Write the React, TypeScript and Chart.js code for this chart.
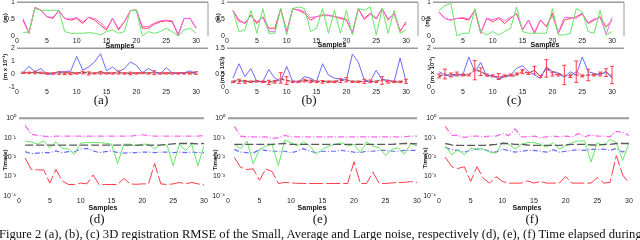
import React, { useEffect, useRef } from "react";
import { Chart, registerables } from "chart.js";

Chart.register(...registerables);
Chart.defaults.font.family = "'Liberation Sans', Arial, sans-serif";

// ---------------- DATA ----------------
const samples = [1, 2, 3, 4, 5, 6, 7, 8, 9, 10, 11, 12, 13, 14, 15, 16, 17, 18, 19, 20, 21, 22, 23, 24, 25, 26, 27, 28, 29, 30];
const xTickValues = [0, 5, 10, 15, 20, 25, 30];
const rmseTicks = [0, 0.5, 1];
const aErrTicks = [-1, 0, 1, 2];
const bErrTicks = [0, 0.5, 1, 1.5];
const cErrTicks = [0, 1, 2];
const timeTicks = [1e-4, 1e-3, 1e-2, 1e-1, 1];

// (a) RMSE top
const aTopRed = [0.47, 0.08, 0.84, 0.77, 0.57, 0.52, 0.75, 0.52, 0.47, 0.52, 0.37, 0.55, 0.47, 0.32, 0.18, 0.52, 0.18, 0.42, 0.75, 0.77, 0.23, 0.23, 0.35, 0.42, 0.45, 0.42, 0.03, 0.52, 0.52, 0.23];
const aTopMagenta = [0.52, 0.1, 0.84, 0.77, 0.57, 0.55, 0.75, 0.52, 0.5, 0.55, 0.42, 0.55, 0.52, 0.4, 0.22, 0.52, 0.22, 0.42, 0.75, 0.77, 0.28, 0.28, 0.38, 0.45, 0.47, 0.45, 0.05, 0.52, 0.52, 0.25];
const aTopGreen = [0.11, 0.11, 0.81, 0.76, 0.76, 0.76, 0.76, 0.13, 0.08, 0.08, 0.08, 0.1, 0.08, 0.03, 0.13, 0.18, 0.08, 0.13, 0.76, 0.76, 0.0, 0.13, 0.08, 0.13, 0.23, 0.13, 0.0, 0.18, 0.23, 0.08];
// (a) bottom
const aBotBlue = [0.1, 0.6, 0.18, 0.43, 0.0, 0.0, 0.18, 0.18, 0.25, 1.37, 0.3, 0.55, 0.94, 1.57, 0.25, 0.55, 0.18, 0.43, 0.94, 0.68, 0.1, 0.43, 0.18, 0.0, 0.5, 0.1, 0.05, 0.1, 0.25, 0.05];
const aBotBlack = [0.1, 0.1, 0.12, 0.08, 0.05, 0.08, 0.1, 0.1, 0.1, 0.1, 0.12, 0.08, 0.08, 0.1, 0.1, 0.08, 0.1, 0.08, 0.08, 0.1, 0.08, 0.1, 0.1, 0.08, 0.1, 0.08, 0.1, 0.1, 0.12, 0.1];
const aBotRed = [0.1, 0.1, 0.12, 0.1, 0.05, 0.05, 0.08, 0.05, 0.05, 0.05, 0.12, 0.05, 0.05, 0.1, 0.05, 0.05, 0.12, 0.05, 0.05, 0.05, 0.08, 0.05, 0.1, 0.05, 0.05, 0.05, 0.05, 0.05, 0.05, 0.08];
const aBotRedErr = [0.05, 0.05, 0.1, 0.05, 0.05, 0.05, 0.1, 0.1, 0.1, 0.05, 0.1, 0.12, 0.05, 0.1, 0.05, 0.05, 0.12, 0.05, 0.1, 0.05, 0.05, 0.05, 0.15, 0.05, 0.05, 0.05, 0.05, 0.05, 0.05, 0.1];

// (b) RMSE top
const bTopRed = [0.76, 0.47, 0.37, 0.62, 0.37, 0.57, 0.23, 0.23, 0.81, 0.13, 0.81, 0.76, 0.67, 0.47, 0.57, 0.62, 0.62, 0.57, 0.52, 0.47, 0.08, 0.81, 0.52, 0.67, 0.52, 0.81, 0.47, 0.67, 0.13, 0.42];
const bTopMagenta = [0.75, 0.42, 0.4, 0.6, 0.42, 0.55, 0.15, 0.12, 0.8, 0.1, 0.8, 0.78, 0.72, 0.55, 0.57, 0.6, 0.6, 0.58, 0.55, 0.5, 0.1, 0.8, 0.48, 0.65, 0.5, 0.8, 0.5, 0.65, 0.18, 0.35];
const bTopGreen = [0.76, 0.13, 0.18, 0.76, 0.08, 0.81, 0.08, 0.08, 0.81, 0.03, 0.81, 0.86, 0.81, 0.13, 0.23, 0.81, 0.08, 0.76, 0.08, 0.76, 0.03, 0.81, 0.76, 0.86, 0.03, 0.81, 0.08, 0.76, 0.08, 0.18];
// (b) bottom
const bBotBlue = [0.34, 0.9, 0.4, 0.71, 0.21, 0.21, 0.68, 0.34, 0.21, 0.8, 0.21, 0.21, 0.4, 0.34, 0.21, 0.9, 0.46, 0.34, 0.3, 0.27, 1.27, 0.96, 0.27, 0.21, 0.65, 0.27, 0.27, 0.21, 1.12, 0.21];
const bBotBlack = [0.22, 0.25, 0.22, 0.22, 0.22, 0.22, 0.2, 0.2, 0.3, 0.25, 0.22, 0.22, 0.25, 0.25, 0.22, 0.22, 0.22, 0.22, 0.25, 0.28, 0.22, 0.22, 0.22, 0.22, 0.22, 0.3, 0.25, 0.22, 0.2, 0.22];
const bBotRed = [0.2, 0.22, 0.2, 0.2, 0.22, 0.2, 0.18, 0.2, 0.35, 0.25, 0.2, 0.2, 0.25, 0.22, 0.2, 0.2, 0.2, 0.2, 0.25, 0.28, 0.2, 0.2, 0.22, 0.22, 0.2, 0.25, 0.2, 0.2, 0.2, 0.22];
const bBotRedErr = [0.03, 0.08, 0.05, 0.03, 0.03, 0.03, 0.08, 0.05, 0.2, 0.15, 0.03, 0.03, 0.05, 0.05, 0.03, 0.05, 0.03, 0.03, 0.08, 0.08, 0.03, 0.03, 0.08, 0.05, 0.03, 0.15, 0.05, 0.03, 0.03, 0.08];

// (c) RMSE top
const cTopRed = [0.72, 0.52, 0.47, 0.52, 0.52, 0.47, 0.76, 0.08, 0.52, 0.42, 0.52, 0.37, 0.52, 0.67, 0.18, 0.47, 0.08, 0.47, 0.27, 0.67, 0.08, 0.47, 0.52, 0.57, 0.67, 0.37, 0.47, 0.57, 0.27, 0.47];
const cTopMagenta = [0.7, 0.52, 0.47, 0.52, 0.55, 0.5, 0.76, 0.1, 0.52, 0.48, 0.55, 0.45, 0.55, 0.65, 0.2, 0.47, 0.12, 0.47, 0.3, 0.6, 0.1, 0.55, 0.55, 0.52, 0.65, 0.4, 0.5, 0.55, 0.05, 0.55];
const cTopGreen = [0.76, 0.9, 0.96, 0.0, 0.08, 0.08, 0.81, 0.13, 0.03, 0.13, 0.03, 0.13, 0.23, 0.86, 0.13, 0.08, 0.08, 0.08, 0.08, 0.81, 0.03, 0.03, 0.08, 0.81, 0.72, 0.13, 0.08, 0.76, 0.03, 0.13];
// (c) bottom
const cBotBlue = [0.79, 0.62, 0.54, 0.62, 0.62, 1.55, 0.79, 1.26, 0.54, 0.62, 0.4, 0.54, 0.62, 0.96, 1.1, 0.79, 0.62, 0.45, 1.04, 0.79, 0.7, 0.5, 0.79, 0.62, 1.55, 0.79, 0.7, 0.62, 0.79, 0.45];
const cBotBlack = [0.54, 0.62, 0.62, 0.67, 0.62, 0.62, 0.96, 0.79, 0.62, 0.57, 0.45, 0.57, 0.57, 0.57, 0.9, 0.7, 0.87, 0.54, 0.96, 0.79, 0.74, 0.54, 0.67, 0.62, 0.57, 0.62, 0.62, 0.7, 0.79, 0.5];
const cBotRed = [0.57, 0.67, 0.62, 0.67, 0.62, 0.62, 0.87, 0.79, 0.62, 0.57, 0.54, 0.57, 0.62, 0.67, 0.79, 0.7, 0.87, 0.54, 0.96, 0.67, 0.62, 0.62, 0.54, 0.79, 0.57, 0.62, 0.62, 0.67, 0.74, 0.62];
const cBotRedErr = [0.1, 0.25, 0.1, 0.1, 0.05, 0.05, 0.5, 0.2, 0.05, 0.05, 0.15, 0.05, 0.05, 0.05, 0.1, 0.05, 0.2, 0.05, 0.45, 0.1, 0.05, 0.5, 0.05, 0.55, 0.05, 0.3, 0.05, 0.1, 0.2, 0.45];

// (d) time
const dMagenta = [0.41, 0.15, 0.13, 0.12, 0.11, 0.12, 0.12, 0.12, 0.12, 0.12, 0.12, 0.12, 0.12, 0.12, 0.12, 0.12, 0.12, 0.12, 0.13, 0.14, 0.13, 0.12, 0.12, 0.12, 0.12, 0.12, 0.12, 0.12, 0.12, 0.13];
const dGreen = [0.068, 0.06, 0.046, 0.068, 0.03, 0.06, 0.028, 0.026, 0.014, 0.052, 0.056, 0.056, 0.056, 0.052, 0.046, 0.0046, 0.046, 0.046, 0.038, 0.046, 0.046, 0.026, 0.046, 0.042, 0.0036, 0.046, 0.022, 0.046, 0.0036, 0.038];
const dBlack = [0.041, 0.041, 0.041, 0.041, 0.041, 0.041, 0.041, 0.041, 0.041, 0.041, 0.041, 0.041, 0.041, 0.041, 0.041, 0.041, 0.041, 0.041, 0.041, 0.041, 0.041, 0.041, 0.041, 0.045, 0.048, 0.05, 0.05, 0.05, 0.048, 0.05];
const dBlue = [0.019, 0.015, 0.016, 0.017, 0.017, 0.021, 0.017, 0.019, 0.019, 0.026, 0.028, 0.021, 0.017, 0.019, 0.021, 0.017, 0.016, 0.017, 0.017, 0.018, 0.018, 0.017, 0.018, 0.018, 0.017, 0.018, 0.017, 0.018, 0.017, 0.017];
const dRed = [0.0089, 0.0023, 0.0022, 0.0022, 0.00046, 0.0023, 0.0006, 0.00039, 0.00039, 0.00046, 0.00042, 0.0012, 0.00039, 0.00039, 0.00039, 0.00039, 0.0008, 0.00042, 0.0004, 0.00042, 0.00042, 0.0047, 0.00042, 0.00039, 0.00042, 0.0005, 0.00042, 0.0005, 0.00042, 0.00037];

// (e) time
const eMagenta = [0.38, 0.12, 0.11, 0.11, 0.11, 0.11, 0.09, 0.1, 0.13, 0.11, 0.11, 0.11, 0.11, 0.11, 0.11, 0.11, 0.11, 0.11, 0.11, 0.11, 0.11, 0.11, 0.11, 0.11, 0.11, 0.11, 0.11, 0.11, 0.12, 0.12];
const eGreen = [0.045, 0.027, 0.067, 0.0045, 0.025, 0.037, 0.045, 0.0037, 0.075, 0.055, 0.037, 0.06, 0.037, 0.014, 0.025, 0.037, 0.045, 0.055, 0.037, 0.045, 0.017, 0.06, 0.037, 0.03, 0.012, 0.025, 0.03, 0.014, 0.05, 0.037];
const eBlack = [0.045, 0.045, 0.045, 0.045, 0.045, 0.045, 0.045, 0.048, 0.05, 0.045, 0.045, 0.045, 0.045, 0.045, 0.045, 0.045, 0.045, 0.045, 0.045, 0.045, 0.045, 0.045, 0.045, 0.045, 0.045, 0.045, 0.048, 0.05, 0.05, 0.048];
const eBlue = [0.025, 0.018, 0.017, 0.016, 0.025, 0.022, 0.02, 0.02, 0.02, 0.017, 0.02, 0.027, 0.02, 0.017, 0.02, 0.02, 0.02, 0.022, 0.02, 0.018, 0.017, 0.02, 0.02, 0.022, 0.022, 0.02, 0.02, 0.022, 0.022, 0.022];
const eRed = [0.0096, 0.003, 0.0023, 0.0025, 0.00065, 0.0025, 0.0018, 0.00044, 0.0005, 0.00047, 0.00045, 0.00044, 0.00044, 0.00044, 0.00044, 0.00044, 0.00044, 0.00044, 0.00044, 0.0058, 0.00044, 0.00044, 0.0017, 0.00044, 0.00044, 0.00047, 0.0005, 0.0005, 0.00055, 0.0005];

// (f) time
const fMagenta = [0.38, 0.13, 0.13, 0.1, 0.12, 0.12, 0.11, 0.12, 0.12, 0.16, 0.13, 0.28, 0.11, 0.11, 0.12, 0.1, 0.11, 0.12, 0.11, 0.12, 0.11, 0.16, 0.11, 0.14, 0.12, 0.12, 0.11, 0.21, 0.19, 0.13];
const fGreen = [0.038, 0.013, 0.024, 0.013, 0.028, 0.026, 0.026, 0.018, 0.016, 0.056, 0.046, 0.026, 0.046, 0.056, 0.056, 0.046, 0.032, 0.056, 0.026, 0.038, 0.056, 0.068, 0.068, 0.0056, 0.056, 0.038, 0.08, 0.056, 0.0068, 0.056];
const fBlack = [0.05, 0.042, 0.04, 0.04, 0.04, 0.04, 0.04, 0.042, 0.045, 0.05, 0.05, 0.045, 0.045, 0.042, 0.04, 0.04, 0.04, 0.04, 0.04, 0.042, 0.045, 0.045, 0.045, 0.042, 0.042, 0.045, 0.045, 0.05, 0.05, 0.05];
const fBlue = [0.031, 0.024, 0.022, 0.018, 0.022, 0.026, 0.026, 0.02, 0.018, 0.026, 0.022, 0.018, 0.02, 0.022, 0.022, 0.02, 0.018, 0.024, 0.018, 0.02, 0.022, 0.024, 0.022, 0.026, 0.024, 0.026, 0.022, 0.028, 0.018, 0.028];
const fRed = [0.01, 0.0032, 0.0026, 0.0032, 0.00056, 0.0032, 0.0008, 0.00046, 0.001, 0.00056, 0.00046, 0.00046, 0.00046, 0.0006, 0.00046, 0.00056, 0.00046, 0.00046, 0.00046, 0.001, 0.00046, 0.00046, 0.00046, 0.00046, 0.0009, 0.00046, 0.0005, 0.012, 0.0012, 0.00046];

// ---------------- STYLE ----------------
const RED = "#ff3a4a";
const MAGENTA = "#ff66ee";
const GREEN = "#66e666";
const BLUE = "#6a6aff";
const BLACK = "#5a5a5a";
const FRAME = "#9a9a9a";

type Series = { data: number[]; color: string; dash?: number[]; width?: number; errors?: number[] };
type Panel = {
  left: number; top: number; width: number; height: number;
  xMax: number; log?: boolean; yMin: number; yMax: number; yTicks: number[];
  series: Series[]; frame: { top?: number; right?: number }; tickPad: number;
};

const Y_W = 26, X_H = 11, PAD_T = 6, PAD_R = 10;

const supMap: Record<string, string> = { "-": "⁻", "0": "⁰", "1": "¹", "2": "²", "3": "³", "4": "⁴" };
const pow10Label = (v: number) => {
  const e = Math.round(Math.log10(v));
  return "10" + String(e).split("").map((c) => supMap[c] || c).join("");
};

const framePlugin = {
  id: "frame",
  afterDraw(chart: any, _args: any, opts: any) {
    const { ctx, chartArea } = chart;
    const { left, right, top, bottom } = chartArea;
    ctx.save();
    ctx.strokeStyle = FRAME;
    if (opts && opts.top) {
      ctx.lineWidth = opts.top;
      ctx.beginPath(); ctx.moveTo(left, top); ctx.lineTo(right, top); ctx.stroke();
    }
    if (opts && opts.right) {
      ctx.lineWidth = opts.right;
      ctx.beginPath(); ctx.moveTo(right, top); ctx.lineTo(right, bottom); ctx.stroke();
    }
    ctx.restore();
  },
};

const errorBarPlugin = {
  id: "errorBars",
  afterDatasetsDraw(chart: any) {
    const ctx = chart.ctx;
    const yScale = chart.scales.y;
    chart.data.datasets.forEach((ds: any, i: number) => {
      if (!ds.errors) return;
      const meta = chart.getDatasetMeta(i);
      ctx.save();
      ctx.strokeStyle = ds.borderColor;
      ctx.lineWidth = 1;
      meta.data.forEach((pt: any, j: number) => {
        const e = ds.errors[j];
        const v = ds.data[j].y;
        const x = pt.x;
        const y1 = yScale.getPixelForValue(v - e);
        const y2 = yScale.getPixelForValue(v + e);
        ctx.beginPath();
        ctx.moveTo(x, y1); ctx.lineTo(x, y2);
        ctx.moveTo(x - 2, y1); ctx.lineTo(x + 2, y1);
        ctx.moveTo(x - 2, y2); ctx.lineTo(x + 2, y2);
        ctx.stroke();
      });
      ctx.restore();
    });
  },
};

Chart.register(framePlugin as any, errorBarPlugin as any);

function Plot({ p }: { p: Panel }) {
  const ref = useRef<HTMLCanvasElement>(null);
  const w = Y_W + p.width + PAD_R;
  const h = PAD_T + p.height + X_H;
  useEffect(() => {
    const chart = new Chart(ref.current as HTMLCanvasElement, {
      type: "line",
      data: {
        datasets: p.series.map((s) => ({
          data: samples.map((x, i) => ({ x, y: s.data[i] })),
          borderColor: s.color,
          backgroundColor: s.color,
          borderWidth: s.width ?? 1,
          borderDash: s.dash ?? [],
          pointRadius: 0,
          tension: 0,
          fill: false,
          errors: s.errors,
        })) as any,
      },
      options: {
        animation: false,
        responsive: false,
        maintainAspectRatio: false,
        layout: { padding: { top: PAD_T, right: PAD_R, left: 0, bottom: 0 } },
        plugins: {
          legend: { display: false },
          tooltip: { enabled: false },
          frame: p.frame,
        } as any,
        scales: {
          x: {
            type: "linear",
            min: 0,
            max: p.xMax,
            grid: { display: false, drawTicks: false, tickLength: 0 },
            border: { display: false },
            ticks: { font: { size: 7 }, color: "#222", padding: 1, maxRotation: 0, autoSkip: false, includeBounds: false },
            afterBuildTicks: (s: any) => { s.ticks = xTickValues.map((v) => ({ value: v })); },
            afterFit: (s: any) => { s.height = X_H; },
          },
          y: {
            type: p.log ? "logarithmic" : "linear",
            min: p.yMin,
            max: p.yMax,
            grid: { display: false, drawTicks: false, tickLength: 0 },
            border: { display: false },
            ticks: {
              font: { size: 7 },
              color: "#222",
              padding: p.tickPad,
              autoSkip: false,
              callback: (v: any) => (p.log ? pow10Label(Number(v)) : String(Number(v))),
            },
            afterBuildTicks: (s: any) => { s.ticks = p.yTicks.map((v) => ({ value: v })); },
            afterFit: (s: any) => { s.width = Y_W; },
          },
        } as any,
      } as any,
    });
    return () => chart.destroy();
  }, []);
  return (
    <canvas
      ref={ref}
      width={w}
      height={h}
      style={{ position: "absolute", left: p.left - Y_W, top: p.top - PAD_T, width: w, height: h }}
    />
  );
}

const topSeries = (red: number[], mag: number[], green: number[]): Series[] => [
  { data: green, color: GREEN },
  { data: mag, color: MAGENTA },
  { data: red, color: RED },
];
const midSeries = (blue: number[], black: number[], red: number[], err: number[]): Series[] => [
  { data: blue, color: BLUE },
  { data: black, color: BLACK, dash: [4, 2] },
  { data: red, color: RED, dash: [3, 2], errors: err },
];
const timeSeries = (m: number[], g: number[], k: number[], b: number[], r: number[]): Series[] => [
  { data: m, color: MAGENTA, dash: [6, 2, 1, 2], width: 1.3 },
  { data: k, color: BLACK, dash: [8, 3], width: 1.3 },
  { data: g, color: GREEN },
  { data: b, color: BLUE, dash: [5, 2, 1, 2], width: 1.2 },
  { data: r, color: RED, dash: [14, 3] },
];

const topLefts = [17, 227, 433];
const panels: Panel[] = [
  ...[[aTopRed, aTopMagenta, aTopGreen], [bTopRed, bTopMagenta, bTopGreen], [cTopRed, cTopMagenta, cTopGreen]].map((d, i) => ({
    left: topLefts[i], top: 2, width: 191, height: 34, xMax: 32, yMin: 0, yMax: 1, yTicks: rmseTicks,
    series: topSeries(d[0], d[1], d[2]), frame: { top: 1.5, right: 1 }, tickPad: 2,
  })),
  { left: topLefts[0], top: 48, width: 191, height: 39, xMax: 32, yMin: -1, yMax: 2, yTicks: aErrTicks,
    series: midSeries(aBotBlue, aBotBlack, aBotRed, aBotRedErr), frame: { top: 1.5 }, tickPad: 2 },
  { left: topLefts[1], top: 48, width: 191, height: 39, xMax: 32, yMin: 0, yMax: 1.5, yTicks: bErrTicks,
    series: midSeries(bBotBlue, bBotBlack, bBotRed, bBotRedErr), frame: { top: 1.5 }, tickPad: 2 },
  { left: topLefts[2], top: 48, width: 191, height: 39, xMax: 32, yMin: 0, yMax: 2, yTicks: cErrTicks,
    series: midSeries(cBotBlue, cBotBlack, cBotRed, cBotRedErr), frame: { top: 1.5 }, tickPad: 2 },
  { left: 19, top: 117, width: 185, height: 79, xMax: 30, log: true, yMin: 1e-4, yMax: 1, yTicks: timeTicks,
    series: timeSeries(dMagenta, dGreen, dBlack, dBlue, dRed), frame: { top: 2 }, tickPad: 3 },
  { left: 228, top: 117, width: 189, height: 79, xMax: 30, log: true, yMin: 1e-4, yMax: 1, yTicks: timeTicks,
    series: timeSeries(eMagenta, eGreen, eBlack, eBlue, eRed), frame: { top: 2 }, tickPad: 3 },
  { left: 439, top: 117, width: 190, height: 79, xMax: 30, log: true, yMin: 1e-4, yMax: 1, yTicks: timeTicks,
    series: timeSeries(fMagenta, fGreen, fBlack, fBlue, fRed), frame: { top: 2 }, tickPad: 3 },
];

const sans = "'Liberation Sans', Arial, sans-serif";
const serif = "'Liberation Serif', 'Times New Roman', serif";

function Txt({ x, y, text, size, font, bold, rotate }: { x: number; y: number; text: string; size: number; font: string; bold?: boolean; rotate?: boolean }) {
  return (
    <div
      style={{
        position: "absolute", left: x, top: y, fontSize: size, fontFamily: font, fontWeight: bold ? 700 : 400,
        whiteSpace: "nowrap", lineHeight: 1, color: "#111",
        transform: `translate(-50%, -50%)${rotate ? " rotate(-90deg)" : ""}`,
      }}
    >
      {text}
    </div>
  );
}

export default function App() {
  useEffect(() => {
    document.body.style.margin = "0";
  }, []);
  return (
    <div style={{ position: "relative", width: 640, height: 240, overflow: "hidden", background: "#fff" }}>
      {panels.map((p, i) => <Plot key={i} p={p} />)}
      <Txt x={5} y={18} text="(m)" size={6} font={sans} bold rotate />
      <Txt x={218} y={18} text="(m)" size={6} font={sans} bold rotate />
      <Txt x={427} y={22} text="(m)" size={6} font={sans} bold rotate />
      <Txt x={5} y={67} text="(m x 10⁻³)" size={6} font={sans} bold rotate />
      <Txt x={222} y={70} text="(m x 10⁻³)" size={6} font={sans} bold rotate />
      <Txt x={432} y={70} text="(m x 10⁻²)" size={6} font={sans} bold rotate />
      <Txt x={120} y={45} text="Samples" size={7} font={sans} bold />
      <Txt x={332} y={44} text="Samples" size={7} font={sans} bold />
      <Txt x={545} y={44} text="Samples" size={7} font={sans} bold />
      <Txt x={5} y={160} text="Time(s)" size={6} font={sans} bold rotate />
      <Txt x={215} y={160} text="Time(s)" size={6} font={sans} bold rotate />
      <Txt x={425} y={158} text="Time(s)" size={6} font={sans} bold rotate />
      <Txt x={103} y={207} text="Samples" size={7} font={sans} bold />
      <Txt x={312} y={207} text="Samples" size={7} font={sans} bold />
      <Txt x={527} y={207} text="Samples" size={7} font={sans} bold />
      <Txt x={101} y={99} text="(a)" size={13} font={serif} />
      <Txt x={309} y={99} text="(b)" size={13} font={serif} />
      <Txt x={514} y={99} text="(c)" size={13} font={serif} />
      <Txt x={97} y={218} text="(d)" size={13} font={serif} />
      <Txt x={320} y={218} text="(e)" size={13} font={serif} />
      <Txt x={532} y={218} text="(f)" size={13} font={serif} />
      <div
        style={{
          position: "absolute", left: -1, top: 228, fontSize: 12.6, fontFamily: serif, whiteSpace: "nowrap", lineHeight: 1, color: "#111",
        }}
      >
        Figure 2 (a), (b), (c) 3D registration RMSE of the Small, Average and Large noise, respectively (d), (e), (f) Time elapsed during
      </div>
    </div>
  );
}
